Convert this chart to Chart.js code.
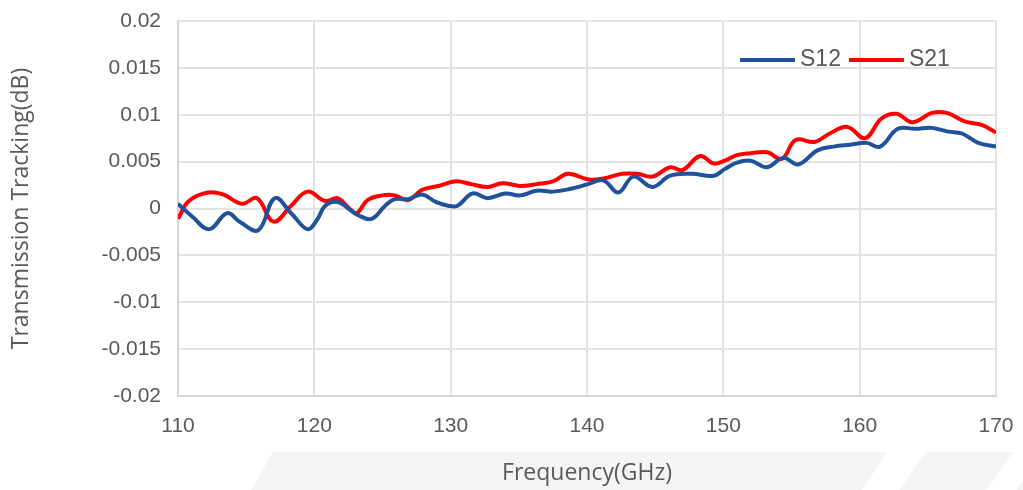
<!DOCTYPE html>
<html>
<head>
<meta charset="utf-8">
<script src="https://cdn.jsdelivr.net/npm/chart.js@4.4.1/dist/chart.umd.min.js"></script>
<style>
  html, body { margin: 0; padding: 0; background: #fff; }
  #wrap { position: relative; width: 1023px; height: 490px; overflow: hidden; }
  .band { position: absolute; left: 250px; top: 452px; width: 900px; height: 40px; background: #f4f4f6; transform: skewX(-30deg); transform-origin: bottom left; }
  .gap { position: absolute; top: 452px; height: 40px; background: #fff; transform: skewX(-35deg); transform-origin: bottom left; }
  canvas { position: absolute; left: 0; top: 0; }
</style>
</head>
<body>
<div id="wrap">
  <div class="band"></div>
  <div class="gap" style="left:860px;width:38px"></div>
  <div class="gap" style="left:985px;width:30px"></div>
  <canvas id="myChart" width="1023" height="490"></canvas>
</div>
<script>
// data
let s12Freq = [110,111,112.3,113.6,114.6,115.9,117.1,118.3,119.5,120.2,120.8,121.7,122.5,123.2,124.2,125.2,125.9,126.9,127.9,128.9,129.8,130.5,131.6,132.7,134,135.1,136.3,137.5,138.8,140.1,141.2,142.3,143.4,144.8,146.1,147.7,149.3,150.1,151,152,153.2,154.4,155.5,156.9,158.1,159.3,160.5,161.5,162.8,164.1,165.3,166.5,167.5,168.7,170];
let s12Val  = [0.0005,-0.0008,-0.0022,-0.0005,-0.0015,-0.0023,0.0011,-0.0005,-0.0022,-0.0012,0.0003,0.0007,0.0,-0.0007,-0.0011,0.0003,0.001,0.001,0.0015,0.0007,0.0003,0.0003,0.0016,0.0011,0.0016,0.0014,0.0019,0.0018,0.0021,0.0026,0.003,0.0017,0.0034,0.0023,0.0035,0.0037,0.0035,0.0042,0.0049,0.0051,0.0044,0.0054,0.0047,0.0062,0.0066,0.0068,0.007,0.0066,0.0085,0.0085,0.0086,0.0082,0.008,0.007,0.0066];
let s21Freq = [110,110.8,112.2,113.3,114.7,115.8,117,118.3,119.5,120.8,121.7,122.5,123.1,123.9,125,125.9,126.9,127.9,129.1,130.4,131.5,132.7,133.8,135.1,136.3,137.5,138.6,140.1,141.2,142.6,143.7,144.8,146.1,147,148.3,149.3,150.1,151,152,153.2,154.3,155.3,156.7,157.8,159.1,160.4,161.6,162.7,163.9,165.3,166.4,167.7,169,170];
let s21Val  = [-0.0011,0.0008,0.0017,0.0015,0.0005,0.0011,-0.0014,0.0003,0.0018,0.0008,0.0011,0.0001,-0.0005,0.0009,0.0014,0.0014,0.0009,0.002,0.0024,0.0029,0.0026,0.0023,0.0027,0.0024,0.0026,0.0029,0.0037,0.0031,0.0032,0.0037,0.0037,0.0034,0.0044,0.0041,0.0056,0.0048,0.0051,0.0057,0.0059,0.006,0.0053,0.0073,0.0071,0.008,0.0087,0.0075,0.0096,0.0101,0.0092,0.0102,0.0102,0.0093,0.0089,0.0081];
let yTicks = [0.02,0.015,0.01,0.005,0,-0.005,-0.01,-0.015,-0.02];
let xTicks = [110,120,130,140,150,160,170];

function pts(xs, ys){
    return xs.map((x,i)=>({x:x, y:ys[i]}));
}

const textColor = '#595959';
const gridColor = '#e3e3e3';

// legend drawn inside the plot, top right
const insideLegend = {
    id: 'insideLegend',
    afterDraw(chart){
        const ctx = chart.ctx;
        const area = chart.chartArea;
        let x = area.left + 562;
        const y = area.top + 39;
        ctx.save();
        ctx.font = '23px "Liberation Sans", Arial, sans-serif';
        ctx.textBaseline = 'middle';
        chart.data.datasets.forEach(ds=>{
            ctx.strokeStyle = ds.borderColor;
            ctx.lineWidth = 4;
            ctx.beginPath();
            ctx.moveTo(x, y);
            ctx.lineTo(x + 55, y);
            ctx.stroke();
            ctx.fillStyle = textColor;
            ctx.fillText(ds.label, x + 60, y);
            x += 60 + ctx.measureText(ds.label).width + 8;
        });
        ctx.restore();
    }
};

// keep the plot box where the reference has it
function noPad(s){
    s.paddingTop = 0; s.paddingBottom = 0;
    s.paddingLeft = 0; s.paddingRight = 0;
}

var ctx = document.getElementById('myChart').getContext('2d');
var chart = new Chart(ctx, {
    type: 'line',
    data: {
        datasets: [{
            label: 'S12',
            borderColor: '#20519b',
            backgroundColor: '#20519b',
            data: pts(s12Freq, s12Val),
            borderWidth: 4,
            pointRadius: 0,
            tension: 0.4
        },
        {
            label: 'S21',
            borderColor: '#ff0000',
            backgroundColor: '#ff0000',
            data: pts(s21Freq, s21Val),
            borderWidth: 4,
            pointRadius: 0,
            tension: 0.4
        }]
    },
    options: {
        responsive: false,
        animation: false,
        layout: { padding: { top: 21, right: 27, left: 0, bottom: 0 } },
        plugins: {
            legend: { display: false },
            tooltip: { enabled: false }
        },
        scales: {
            x: {
                type: 'linear',
                min: 110, max: 170,
                afterFit: s => { s.height = 94; noPad(s); },
                afterBuildTicks: s => { s.ticks = xTicks.map(v=>({value:v})); },
                grid: { color: gridColor, lineWidth: 2, drawTicks: false },
                border: { color: '#d4d4d4', width: 2 },
                ticks: { color: textColor, padding: 18, maxRotation: 0, font: { family: '"Liberation Sans", Arial', size: 21 } },
                title: { display: true, text: 'Frequency(GHz)', color: textColor, padding: { top: 0, bottom: 3 }, font: { family: '"Open Sans", sans-serif', size: 23 } }
            },
            y: {
                min: -0.02, max: 0.02,
                afterFit: s => { s.width = 178; noPad(s); },
                afterBuildTicks: s => { s.ticks = yTicks.map(v=>({value:v})); },
                grid: { color: gridColor, lineWidth: 2, drawTicks: false },
                border: { color: '#d4d4d4', width: 2 },
                ticks: { color: textColor, padding: 17, callback: v => String(v), font: { family: '"Liberation Sans", Arial', size: 21 } },
                title: { display: true, text: 'Transmission Tracking(dB)', color: textColor, padding: { top: 8, bottom: 0 }, font: { family: '"Open Sans", sans-serif', size: 23 } }
            }
        }
    },
    plugins: [insideLegend]
});
</script>
</body>
</html>
